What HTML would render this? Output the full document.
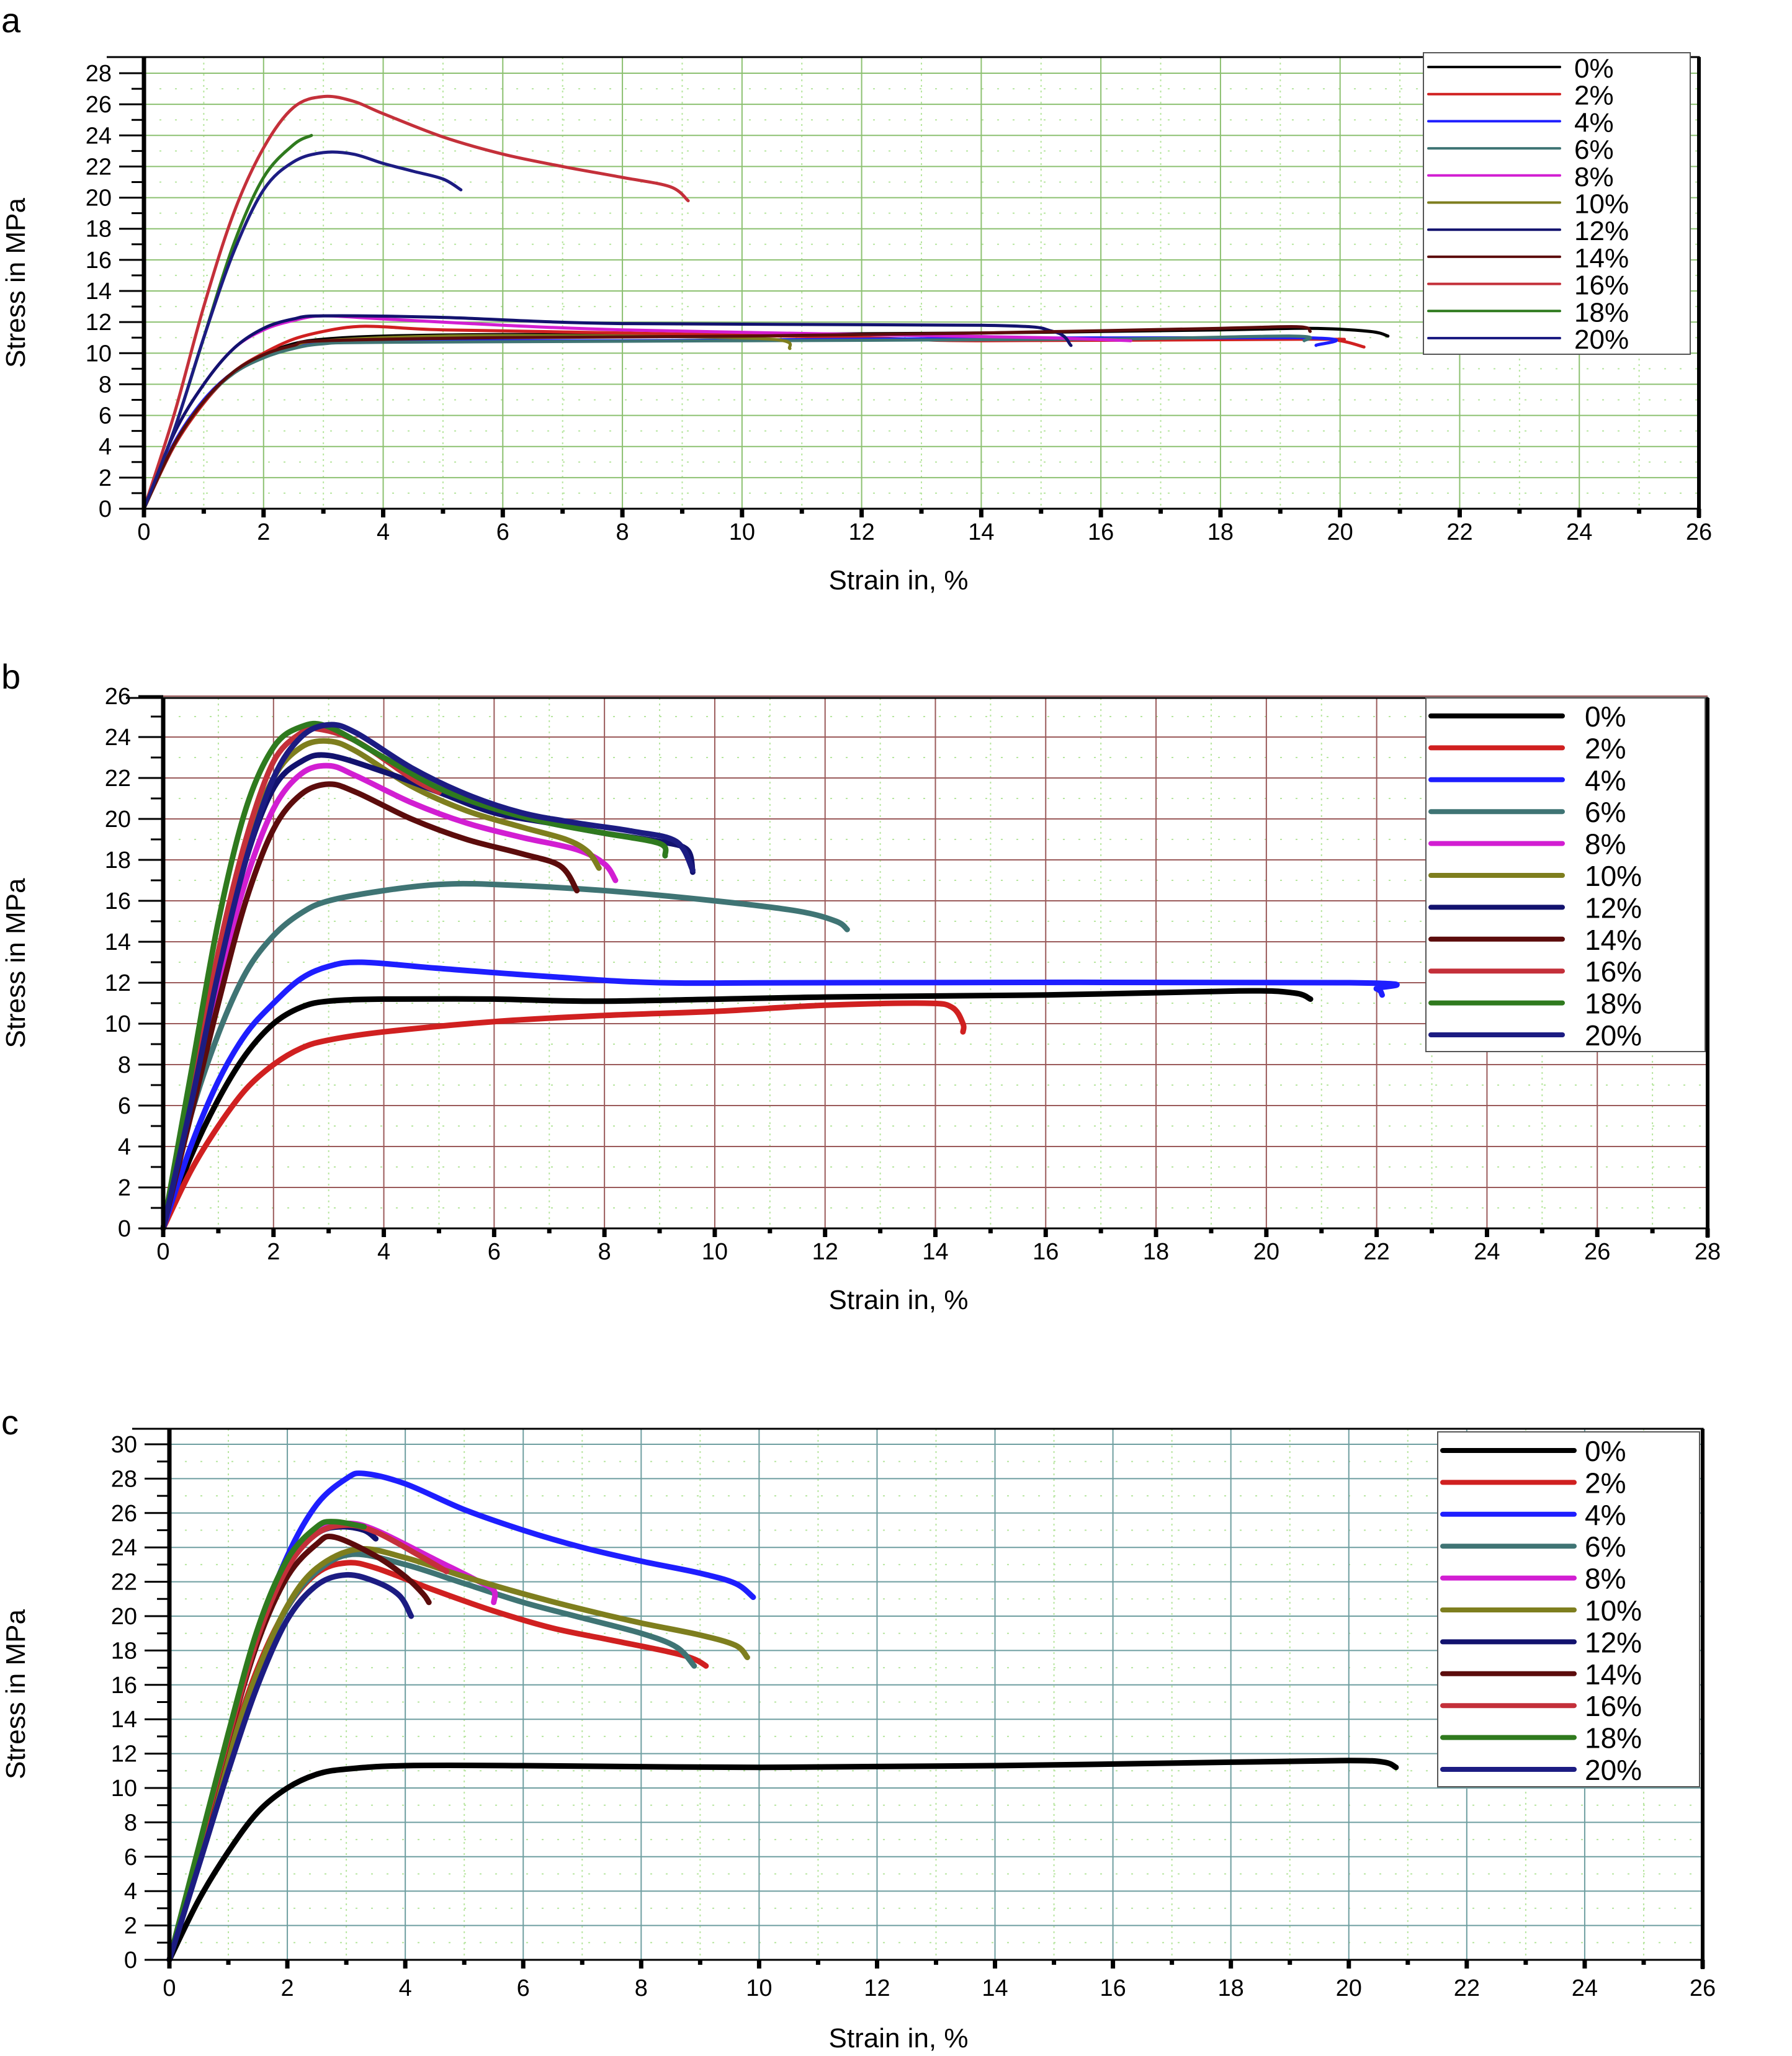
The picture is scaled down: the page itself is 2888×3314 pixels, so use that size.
<!DOCTYPE html>
<html><head><meta charset="utf-8"><style>
html,body{margin:0;padding:0;background:#fff}
svg{display:block}
text{font-family:"Liberation Sans",Arial,sans-serif;fill:#000}
</style></head><body>
<svg id="fig" width="2888" height="3314" viewBox="0 0 2888 3314" xmlns="http://www.w3.org/2000/svg"></svg>
<script>
// ---- legend / series labels ----
const seriesLabels = ["0%","2%","4%","6%","8%","10%","12%","14%","16%","18%","20%"];
const seriesColors = ["#000000","#d02020","#1e1eff","#3f7474","#d21ed2","#7e7e1e","#12126e","#5c0c0c","#c4303a","#2f7a1e","#1c1c82"];

// ---- panel a data: [strain %, stress MPa] ----
const a0=[[0,0],[0.5,4],[1,6.8],[1.5,8.8],[2,9.9],[2.5,10.6],[3,10.9],[4,11.1],[6,11.2],[10,11.2],[14,11.3],[18,11.5],[19.5,11.6],[20.5,11.4],[20.8,11.1]];
const a2=[[0,0],[0.5,4],[1,6.8],[1.5,8.8],[2,10],[2.5,10.9],[3,11.4],[3.5,11.7],[4,11.7],[5,11.5],[8,11.3],[12,11],[14,10.8],[19.5,10.9],[20,10.8],[20.4,10.4]];
const a4=[[0,0],[0.5,4.2],[1,7],[1.5,8.8],[2,9.8],[2.5,10.4],[3,10.7],[4,10.8],[8,10.8],[12,10.9],[19.3,11],[19.6,10.5]];
const a6=[[0,0],[0.5,4.1],[1,6.9],[1.5,8.7],[2,9.7],[2.5,10.3],[3,10.6],[4,10.7],[10,10.8],[16,10.9],[19.2,11.1],[19.4,10.8]];
const a8=[[0,0],[0.5,4.8],[1,8],[1.5,10.3],[2,11.5],[2.5,12.1],[3,12.4],[4,12.2],[6,11.8],[8,11.5],[12,11.2],[15,11],[16.5,10.8]];
const a10=[[0,0],[0.5,4.1],[1,6.9],[1.5,8.8],[2,9.9],[2.5,10.5],[3,10.8],[5,11.1],[8,11.1],[10.5,10.9],[10.8,10.3]];
const a12=[[0,0],[0.5,4.8],[1,8],[1.5,10.3],[2,11.6],[2.5,12.2],[3,12.4],[5,12.3],[8,11.9],[14,11.8],[15.2,11.4],[15.5,10.5]];
const a14=[[0,0],[0.5,4.1],[1,6.9],[1.5,8.8],[2,9.9],[2.5,10.5],[3,10.8],[6,11],[10,11.1],[14,11.3],[18,11.6],[19.3,11.7],[19.5,11.4]];
const a16=[[0,0],[0.5,6],[1,13],[1.5,19],[2,23.2],[2.5,25.8],[3,26.5],[3.5,26.2],[4,25.4],[5,23.9],[6,22.8],[7,22],[8,21.3],[8.8,20.7],[9.1,19.8]];
const a18=[[0,0],[0.5,5],[1,11],[1.5,17],[2,21.3],[2.5,23.4],[2.8,24]];
const a20=[[0,0],[0.5,5],[1,11],[1.5,16.5],[2,20.5],[2.5,22.3],[3,22.9],[3.5,22.8],[4,22.2],[4.5,21.7],[5,21.2],[5.3,20.5]];

// ---- panel b data ----
const b0=[[0,0],[0.5,3.5],[1,6.3],[1.5,8.5],[2,10],[2.5,10.8],[3,11.1],[4,11.2],[6,11.2],[8,11.1],[12,11.3],[16,11.4],[19.5,11.6],[20.5,11.5],[20.8,11.2]];
const b2=[[0,0],[0.5,2.8],[1,5],[1.5,6.8],[2,8],[2.5,8.8],[3,9.2],[4,9.6],[6,10.1],[8,10.4],[10,10.6],[12,10.9],[13.8,11],[14.3,10.8],[14.5,10],[14.5,9.6]];
const b4=[[0,0],[0.5,4],[1,7.2],[1.5,9.5],[2,11],[2.5,12.2],[3,12.8],[3.6,13],[5,12.7],[7,12.3],[9,12],[12,12],[21.5,12],[22,11.7],[22.1,11.4]];
const b6=[[0,0],[0.5,5.5],[1,9.5],[1.5,12.5],[2,14.3],[2.5,15.4],[3,16],[4,16.5],[5,16.8],[6,16.8],[8,16.5],[10,16],[11.5,15.5],[12.2,15],[12.4,14.6]];
const b8=[[0,0],[0.5,6],[1,12],[1.5,17],[2,20.5],[2.5,22.2],[3,22.6],[3.5,22.1],[4.5,20.8],[5.5,19.8],[6.5,19.1],[7.5,18.5],[8,17.8],[8.2,17]];
const b10=[[0,0],[0.5,6.5],[1,13],[1.5,18.5],[2,22],[2.5,23.5],[3,23.8],[3.5,23.3],[4.5,21.6],[5.5,20.4],[6.5,19.6],[7.3,19],[7.7,18.4],[7.9,17.6]];
const b12=[[0,0],[0.5,6.2],[1,12.5],[1.5,18],[2,21.5],[2.5,22.8],[3,23.1],[4,22.3],[5,21.3],[6,20.3],[7,19.8],[8,19.3],[9,18.9],[9.5,18.5],[9.6,17.4]];
const b14=[[0,0],[0.5,5.5],[1,11],[1.5,16],[2,19.5],[2.5,21.2],[3,21.7],[3.5,21.3],[4.5,20],[5.5,19],[6.5,18.3],[7.2,17.7],[7.5,16.5]];
const b16=[[0,0],[0.5,6.5],[1,13.5],[1.5,19],[2,22.8],[2.5,24.2],[2.8,24.4],[3.5,23.8],[4.5,22],[5,21.3]];
const b18=[[0,0],[0.5,7.5],[1,15],[1.5,20.5],[2,23.5],[2.5,24.5],[3,24.5],[4,23],[5,21.5],[6,20.5],[7,19.8],[8,19.3],[9,18.8],[9.1,18.2]];
const b20=[[0,0],[0.5,6],[1,12.5],[1.5,18],[2,22],[2.5,24],[3,24.6],[3.5,24.2],[4.5,22.5],[5.5,21.2],[6.5,20.3],[7.5,19.8],[8.5,19.4],[9.3,18.9],[9.6,17.5]];

// ---- panel c data ----
const c0=[[0,0],[0.5,3.5],[1,6.3],[1.5,8.6],[2,10],[2.5,10.8],[3,11.1],[4,11.3],[6,11.3],[10,11.2],[14,11.3],[18,11.5],[20,11.6],[20.6,11.5],[20.8,11.2]];
const c2=[[0,0],[0.5,6],[1,12],[1.5,17],[2,20.5],[2.5,22.5],[3,23.1],[3.5,22.8],[4.5,21.5],[5.5,20.3],[6.5,19.3],[7.5,18.6],[8.5,17.9],[8.9,17.5],[9.1,17.1]];
const c4=[[0,0],[0.5,6.5],[1,13],[1.5,19],[2,23.5],[2.5,26.5],[3,28],[3.3,28.3],[4,27.7],[5,26.2],[6,25],[7,24],[8,23.2],[9,22.5],[9.6,21.9],[9.9,21.1]];
const c6=[[0,0],[0.5,5.8],[1,11.8],[1.5,16.8],[2,20.5],[2.5,22.6],[3.1,23.6],[4,23],[5,21.9],[6,20.8],[7,19.9],[8,19],[8.6,18.2],[8.9,17.1]];
const c8=[[0,0],[0.5,6.5],[1,13],[1.5,19],[2,23],[2.5,25],[3,25.4],[3.5,25],[4.5,23.3],[5.2,22.1],[5.5,21.5],[5.5,20.8]];
const c10=[[0,0],[0.5,5.8],[1,11.8],[1.5,16.8],[2,20.6],[2.5,22.8],[3.2,23.9],[4,23.4],[5,22.3],[6,21.3],[7,20.4],[8,19.6],[9,18.9],[9.6,18.3],[9.8,17.6]];
const c12=[[0,0],[0.5,6.5],[1,13],[1.5,19],[2,23],[2.5,24.8],[2.9,25.2],[3.3,25],[3.5,24.5]];
const c14=[[0,0],[0.5,6.3],[1,12.8],[1.5,18.5],[2,22.3],[2.5,24.2],[2.8,24.6],[3.5,23.5],[4,22.3],[4.3,21.3],[4.4,20.8]];
const c16=[[0,0],[0.5,6.4],[1,12.9],[1.5,18.8],[2,22.8],[2.5,24.8],[3,25.3],[3.5,24.9],[4.2,23.6],[4.7,22.6]];
const c18=[[0,0],[0.5,6.6],[1,13.2],[1.5,19.3],[2,23.3],[2.5,25.2],[2.8,25.5],[3.3,25.2]];
const c20=[[0,0],[0.5,5.5],[1,11],[1.5,16],[2,19.8],[2.5,21.8],[3,22.4],[3.5,22],[3.9,21.2],[4.1,20]];

const aSeries=[a0,a2,a4,a6,a8,a10,a12,a14,a16,a18,a20];
const bSeries=[b0,b2,b4,b6,b8,b10,b12,b14,b16,b18,b20];
const cSeries=[c0,c2,c4,c6,c8,c10,c12,c14,c16,c18,c20];

const NS="http://www.w3.org/2000/svg";
const svg=document.getElementById("fig");
function mk(tag,attrs,parent){const e=document.createElementNS(NS,tag);for(const k in attrs)e.setAttribute(k,attrs[k]);(parent||svg).appendChild(e);return e;}

function smoothPath(pts){
  if(pts.length<2)return "";
  let d="M"+pts[0][0].toFixed(1)+","+pts[0][1].toFixed(1);
  for(let i=0;i<pts.length-1;i++){
    const p0=pts[i-1]||pts[i],p1=pts[i],p2=pts[i+1],p3=pts[i+2]||p2;
    const c1x=p1[0]+(p2[0]-p0[0])/6,c1y=p1[1]+(p2[1]-p0[1])/6;
    const c2x=p2[0]-(p3[0]-p1[0])/6,c2y=p2[1]-(p3[1]-p1[1])/6;
    d+=" C"+c1x.toFixed(1)+","+c1y.toFixed(1)+" "+c2x.toFixed(1)+","+c2y.toFixed(1)+" "+p2[0].toFixed(1)+","+p2[1].toFixed(1);
  }
  return d;
}

function panel(cfg){
  const g=mk("g",{});
  
  
  const X=v=>cfg.x0+v*(cfg.x1-cfg.x0)/cfg.xmax;
  const Y=v=>cfg.y0-v*(cfg.y0-cfg.y1)/cfg.ymaxTick;
  const top=cfg.top, right=X(cfg.xmax);
  for(let v=1;v<cfg.xmax;v+=2){
    const l=mk("line",{x1:X(v),x2:X(v),y1:top,y2:cfg.y0,stroke:"#b8e6a0","stroke-width":2,"stroke-dasharray":"3 6"},g);
    
    
  }
  for(let v=1;v<=cfg.ymaxGrid;v+=2){
    const l=mk("line",{x1:cfg.x0,x2:right,y1:Y(v),y2:Y(v),stroke:"#b8e6a0","stroke-width":2,"stroke-dasharray":"3 22"},g);
    
    
  }
  for(let v=2;v<cfg.xmax;v+=2){
    const l=mk("line",{x1:X(v),x2:X(v),y1:top,y2:cfg.y0,stroke:cfg.grid,"stroke-width":2},g);
    
    
  }
  for(let v=2;v<=cfg.ymaxGrid;v+=2){
    const l=mk("line",{x1:cfg.x0,x2:right,y1:Y(v),y2:Y(v),stroke:cfg.grid,"stroke-width":2},g);
    
    
  }
  cfg.series.forEach((s,i)=>{
    const p=mk("path",{d:smoothPath(s.map(q=>[X(q[0]),Y(q[1])])),fill:"none",stroke:seriesColors[i],"stroke-width":cfg.lw,"stroke-linejoin":"round","stroke-linecap":"round"},g);
    
    
  });
  const f=mk("path",{d:`M${cfg.x0-60},${top} H${right} V${cfg.y0} H${cfg.x0-40}`,fill:"none",stroke:"#000","stroke-width":3},g);
  
  
  const ya=mk("line",{x1:cfg.x0,x2:cfg.x0,y1:top,y2:cfg.y0+12,stroke:"#000","stroke-width":7},g);
  
  
  const rb=mk("line",{x1:right,x2:right,y1:top,y2:cfg.y0+15,stroke:"#000","stroke-width":6},g);
  
  
  for(let v=0;v<=cfg.xmax;v++){
    const t=mk("line",{x1:X(v),x2:X(v),y1:cfg.y0,y2:cfg.y0+(v%2?8:14),stroke:"#000","stroke-width":7},g);
    
    
    if(v%2===0){
      const tx=mk("text",{x:X(v),y:cfg.y0+cfg.xlabOff,"font-size":38,"text-anchor":"middle"},g);
      tx.textContent=String(v);
      
      
    }
  }
  for(let v=0;v<=cfg.ymaxTick;v++){
    const t=mk("line",{x1:cfg.x0-(v%2?20:40),x2:cfg.x0,y1:Y(v),y2:Y(v),stroke:"#000","stroke-width":3},g);
    
    
    if(v%2===0){
      const tx=mk("text",{x:cfg.x0-52,y:Y(v)+13,"font-size":38,"text-anchor":"end"},g);
      tx.textContent=String(v);
      
      
    }
  }
  const xt=mk("text",{x:1448,y:cfg.xtitleY,"font-size":44,"text-anchor":"middle"},g);
  xt.textContent="Strain in, %";
  
  
  const ym=(top+cfg.y0)/2;
  const yt=mk("text",{x:0,y:0,"font-size":44,"text-anchor":"middle",transform:`translate(40,${ym}) rotate(-90)`},g);
  yt.textContent="Stress in MPa";
  
  
  const pl=mk("text",{x:2,y:cfg.letterY,"font-size":56},g);
  pl.textContent=cfg.letter;
  
  
  const L=cfg.legend;
  const lg=mk("g",{},g);
  
  
  mk("rect",{x:L.x,y:L.y,width:L.w,height:L.h,fill:"#fff",stroke:"#555","stroke-width":2},lg);
  seriesLabels.forEach((lab,i)=>{
    const yy=L.r0+i*L.dy;
    const e=mk("g",{},lg);
    
    
    mk("line",{x1:L.x+8,x2:L.x+220,y1:yy,y2:yy,stroke:seriesColors[i],"stroke-width":cfg.legLw,"stroke-linecap":"round"},e);
    const t=mk("text",{x:L.tx,y:yy+17,"font-size":L.fs},e);
    t.textContent=lab;
  });
}

panel({name:"panel-a",letter:"a",letterY:52,x0:232,x1:2738,xmax:26,y0:820,y1:118,ymaxTick:28,ymaxGrid:28,top:92,
  grid:"#8cc070",lw:5,legLw:4,series:aSeries,xlabOff:50,xtitleY:950,
  legend:{x:2294,y:85,w:430,h:486,r0:108,dy:43.7,tx:2537,fs:44}});
panel({name:"panel-b",letter:"b",letterY:1110,x0:263,x1:2752,xmax:28,y0:1980,y1:1122,ymaxTick:26,ymaxGrid:26,top:1125,
  grid:"#9a5a5a",lw:9,legLw:8,series:bSeries,xlabOff:50,xtitleY:2110,
  legend:{x:2298,y:1125,w:450,h:570,r0:1154,dy:51.4,tx:2554,fs:46}});
panel({name:"panel-c",letter:"c",letterY:2312,x0:273,x1:2744,xmax:26,y0:3159,y1:2328,ymaxTick:30,ymaxGrid:30,top:2303,
  grid:"#6e9ea0",lw:9,legLw:8,series:cSeries,xlabOff:58,xtitleY:3300,
  legend:{x:2317,y:2308,w:422,h:572,r0:2338,dy:51.4,tx:2554,fs:46}});
</script>
</body></html>
